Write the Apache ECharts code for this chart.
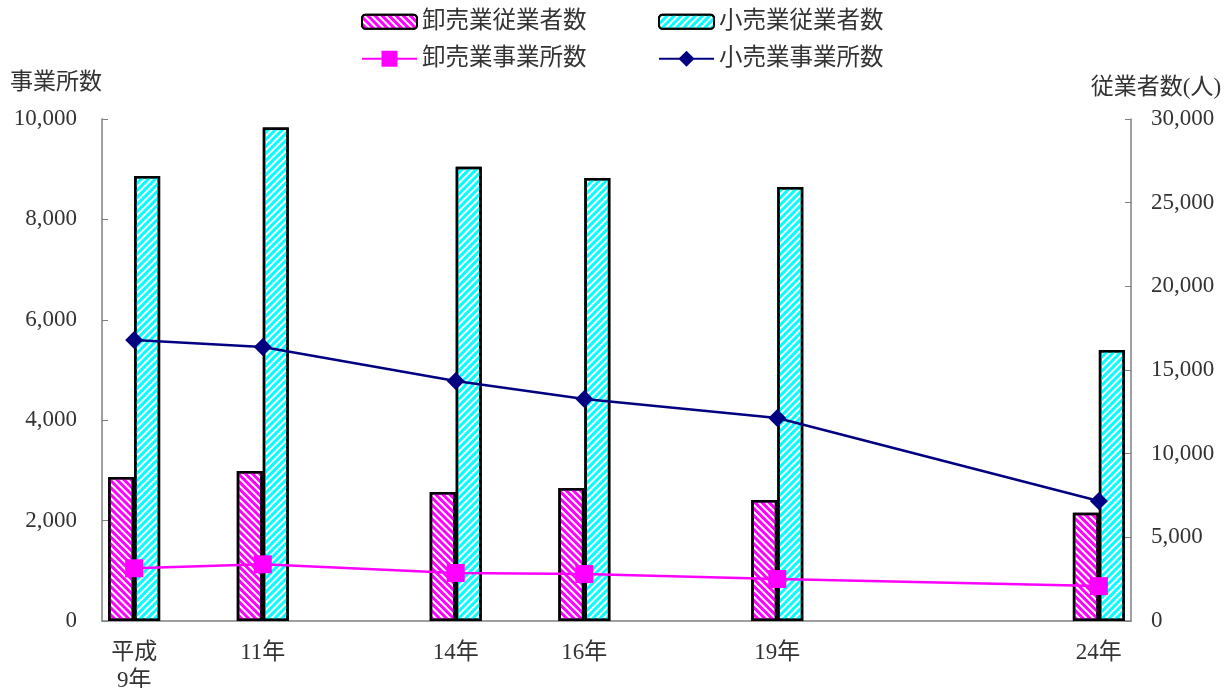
<!DOCTYPE html>
<html>
<head>
<meta charset="utf-8">
<script src="https://cdn.jsdelivr.net/npm/echarts@6/dist/echarts.min.js"></script>
<style>html,body{margin:0;padding:0;background:#fff;}#main{width:1226px;height:688px;}</style>
</head>
<body>
<div id="main"></div>
<script>
// Category per year (平成9年..24年); survey years only carry values
const categories = ['平成\n9年','10年','11年','12年','13年','14年','15年','16年','17年','18年','19年','20年','21年','22年','23年','24年'];
const shownLabels = ['平成\n9年','11年','14年','16年','19年','24年'];
const wholesaleEmployees = [8600, null, 8960, null, null, 7710, null, 7950, null, null, 7230, null, null, null, null, 6470];
const retailEmployees    = [26600, null, 29490, null, null, 27140, null, 26480, null, null, 25940, null, null, null, null, 16200];
const wholesaleShops     = [1050, null, 1130, null, null, 956, null, 936, null, null, 837, null, null, null, null, 695];
const retailShops        = [5598, null, 5458, null, null, 4781, null, 4422, null, null, 4044, null, null, null, null, 2390];
const leftTicks = {min: 0, max: 10000, interval: 2000};
const rightTicks = {min: 0, max: 30000, interval: 5000};

const FONT = '"Liberation Serif", "Noto Sans CJK JP", serif';
const TXT = '#333333';
const chart = echarts.init(document.getElementById('main'));

function legendAt(name, left, top, h) {
  return {
    data: [name], left: left, top: top, padding: 0,
    itemWidth: 55, itemHeight: h, itemGap: 0,
    textStyle: {fontFamily: FONT, fontSize: 23.5, color: TXT}
  };
}

chart.setOption({
  animation: false,
  textStyle: {fontFamily: FONT},
  legend: [
    legendAt('卸売業従業者数', 361, 10, 14),
    legendAt('小売業従業者数', 658, 10, 14),
    legendAt('卸売業事業所数', 361, 47, 20),
    legendAt('小売業事業所数', 658, 47, 20)
  ],
  grid: {left: 102, right: 95, top: 119, bottom: 67, containLabel: false, outerBoundsMode: 'none'},
  xAxis: {
    type: 'category', data: categories, boundaryGap: true,
    axisLine: {lineStyle: {color: '#808080', width: 1.5}},
    axisTick: {inside: true, length: 6, interval: 0, lineStyle: {color: '#808080'}},
    axisLabel: {
      interval: 0, margin: 18, fontFamily: FONT, fontSize: 23, color: TXT, lineHeight: 28,
      formatter: v => shownLabels.indexOf(v) >= 0 ? v : ''
    },
    splitLine: {show: false}
  },
  yAxis: [
    {
      type: 'value', min: leftTicks.min, max: leftTicks.max, interval: leftTicks.interval,
      name: '事業所数', nameLocation: 'end', nameGap: 25,
      nameTextStyle: {fontFamily: FONT, fontSize: 23, color: TXT, align: 'right'},
      axisLine: {show: true, lineStyle: {color: '#808080', width: 1.5}},
      axisTick: {show: true, inside: true, length: 6, lineStyle: {color: '#808080'}},
      axisLabel: {margin: 25, fontFamily: FONT, fontSize: 23, color: TXT,
        formatter: v => v.toLocaleString('en-US')},
      splitLine: {show: false}
    },
    {
      type: 'value', min: rightTicks.min, max: rightTicks.max, interval: rightTicks.interval,
      name: '従業者数(人)', nameLocation: 'end', nameGap: 20,
      nameTextStyle: {fontFamily: FONT, fontSize: 23, color: TXT, align: 'center', padding: [0, 0, 0, 50]},
      axisLine: {show: true, lineStyle: {color: '#808080', width: 1.5}},
      axisTick: {show: true, inside: true, length: 6, lineStyle: {color: '#808080'}},
      axisLabel: {margin: 20, fontFamily: FONT, fontSize: 23, color: TXT,
        formatter: v => v.toLocaleString('en-US')},
      splitLine: {show: false}
    }
  ],
  series: [
    {
      name: '卸売業従業者数', type: 'bar', yAxisIndex: 1, data: wholesaleEmployees,
      barWidth: 26, barGap: '0%',
      itemStyle: {
        color: '#ffffff', borderColor: '#000000', borderWidth: 2.5,
        decal: {symbol: 'rect', symbolSize: 1, dashArrayX: [1, 0], dashArrayY: [3, 2], rotation: Math.PI / 4, color: '#ff00ff'}
      },
      z: 2
    },
    {
      name: '小売業従業者数', type: 'bar', yAxisIndex: 1, data: retailEmployees,
      barWidth: 26, barGap: '0%',
      itemStyle: {
        color: '#ffffff', borderColor: '#000000', borderWidth: 2.5,
        decal: {symbol: 'rect', symbolSize: 1, dashArrayX: [1, 0], dashArrayY: [3, 2], rotation: -Math.PI / 4, color: '#00ffff'}
      },
      z: 2
    },
    {
      name: '卸売業事業所数', type: 'line', yAxisIndex: 0, data: wholesaleShops, connectNulls: true,
      symbol: 'rect', symbolSize: 18,
      lineStyle: {color: '#ff00ff', width: 2.5},
      itemStyle: {color: '#ff00ff'},
      z: 5
    },
    {
      name: '小売業事業所数', type: 'line', yAxisIndex: 0, data: retailShops, connectNulls: true,
      symbol: 'diamond', symbolSize: 18,
      lineStyle: {color: '#000080', width: 2.5},
      itemStyle: {color: '#000080'},
      z: 5
    }
  ]
});
</script>
</body>
</html>
